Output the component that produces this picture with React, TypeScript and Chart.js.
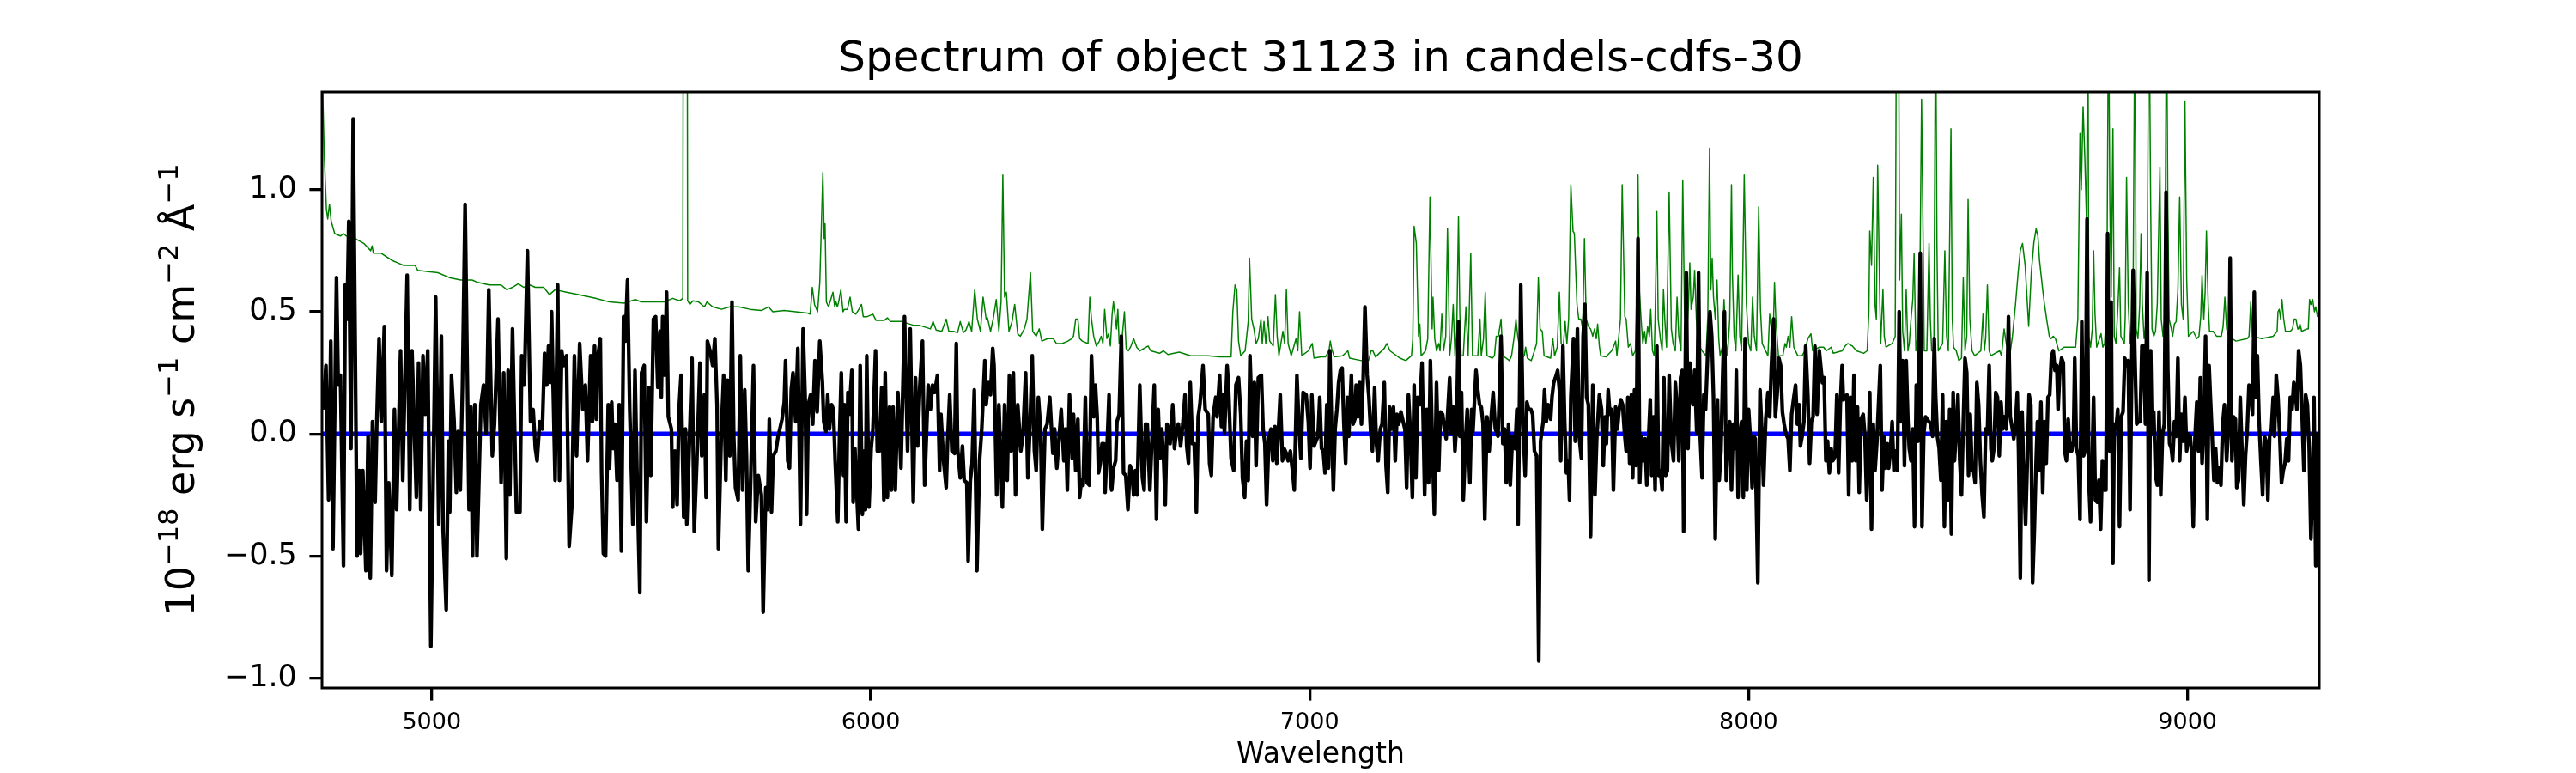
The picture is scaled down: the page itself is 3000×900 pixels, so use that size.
import { useEffect, useRef } from 'react';
import { Chart, registerables } from 'chart.js';

Chart.register(...registerables);

const TITLE = 'Spectrum of object 31123 in candels-cdfs-30';
const X_LABEL = 'Wavelength';
const Y_LABEL_PARTS: [string, boolean][] = [
  ['10', false], ['−18', true], [' erg s', false], ['−1', true],
  [' cm', false], ['−2', true], [' Å', false], ['−1', true],
];
const X_TICKS = [5000, 6000, 7000, 8000, 9000];
const Y_TICKS = [-1.0, -0.5, 0.0, 0.5, 1.0];
const X_RANGE = [4750, 9300];
const Y_RANGE = [-1.04, 1.4];

const ZERO_LINE: [number, number][] = [[4750, 0], [9300, 0]];

// object flux (black)
const FLUX: [number, number][] = [
  [4752,0.10],[4759,0.28],[4765,-0.27],[4770,0.38],[4775,-0.47],[4783,0.64],[4787,0.20],[4792,0.24],[4799,-0.54],[4803,0.61],
  [4807,0.47],[4811,0.87],[4816,-0.06],[4821,1.29],[4830,-0.50],[4835,-0.15],[4838,-0.49],[4843,-0.15],[4850,-0.56],[4855,-0.01],
  [4860,-0.59],[4865,0.05],[4871,-0.28],[4875,0.06],[4880,0.39],[4885,0.05],[4892,0.44],[4897,-0.56],[4902,-0.20],[4909,-0.58],
  [4915,0.10],[4920,-0.31],[4929,0.34],[4934,-0.19],[4944,0.65],[4950,-0.31],[4955,0.34],[4965,-0.26],[4970,0.29],[4975,-0.31],
  [4980,0.32],[4985,0.08],[4991,0.34],[4998,-0.87],[5009,0.56],[5016,-0.37],[5022,0.40],[5026,-0.40],[5033,-0.72],[5038,-0.03],
  [5041,-0.32],[5045,0.24],[5051,0.05],[5056,-0.24],[5060,0.01],[5065,-0.23],[5070,0.20],[5076,0.94],[5085,-0.31],[5089,0.11],
  [5093,-0.50],[5098,0.12],[5103,-0.50],[5112,0.12],[5118,0.20],[5124,0.00],[5130,0.59],[5138,-0.09],[5143,0.04],[5151,0.47],
  [5158,-0.20],[5164,0.25],[5170,-0.51],[5174,0.26],[5178,-0.25],[5184,0.43],[5193,-0.32],[5201,-0.32],[5205,0.32],[5211,0.20],
  [5218,0.75],[5225,0.05],[5231,0.10],[5236,-0.06],[5240,-0.11],[5246,0.05],[5252,0.02],[5257,0.33],[5262,0.20],[5266,0.36],
  [5270,0.21],[5273,0.50],[5281,-0.19],[5287,0.61],[5291,-0.19],[5296,0.34],[5301,0.28],[5307,0.32],[5313,-0.46],[5319,-0.30],[5325,0.32],
  [5330,-0.09],[5337,0.37],[5344,0.10],[5350,0.20],[5355,-0.11],[5362,0.32],[5366,0.05],[5371,0.36],[5375,0.06],[5378,0.31],
  [5384,0.39],[5387,-0.16],[5391,-0.49],[5396,-0.50],[5402,0.12],[5405,-0.14],[5410,0.13],[5413,-0.06],[5417,0.04],[5422,-0.19],
  [5427,0.12],[5432,-0.48],[5437,0.48],[5441,0.38],[5446,0.63],[5451,0.10],[5458,-0.37],[5463,0.26],[5468,-0.20],[5474,-0.65],
  [5478,0.25],[5484,0.28],[5489,-0.36],[5495,0.19],[5499,-0.17],[5505,0.47],[5510,0.48],[5515,0.19],[5520,0.42],[5523,0.15],
  [5526,0.48],[5531,0.24],[5535,0.58],[5539,0.07],[5546,0.02],[5549,-0.30],[5554,-0.07],[5559,-0.29],[5563,0.09],[5568,0.24],
  [5574,-0.34],[5578,0.02],[5581,-0.37],[5588,0.02],[5593,0.31],[5598,-0.40],[5604,-0.11],[5611,0.29],[5615,-0.09],[5621,0.16],
  [5625,-0.26],[5628,0.38],[5634,0.34],[5640,0.28],[5645,0.39],[5650,0.12],[5653,-0.47],[5660,0.02],[5665,0.24],[5670,-0.19],
  [5674,0.22],[5679,-0.09],[5684,0.54],[5688,-0.01],[5692,-0.22],[5698,-0.27],[5703,0.32],[5708,-0.23],[5713,0.18],[5717,-0.09],
  [5721,-0.56],[5726,-0.23],[5733,0.28],[5738,-0.36],[5744,-0.17],[5751,-0.25],[5755,-0.73],[5761,-0.22],[5765,-0.31],[5769,0.06],
  [5774,-0.32],[5778,-0.09],[5784,-0.07],[5789,-0.01],[5793,0.02],[5798,0.06],[5803,0.13],[5806,0.30],[5811,-0.11],[5815,-0.14],
  [5819,0.18],[5823,0.25],[5829,0.05],[5834,0.35],[5840,-0.37],[5846,0.43],[5851,0.13],[5854,-0.33],[5858,0.12],[5863,0.16],
  [5868,0.04],[5873,0.30],[5878,0.09],[5884,0.38],[5890,0.21],
  [5893,0.05],[5898,0.01],[5902,0.16],[5906,0.02],[5911,0.12],[5915,0.10],[5919,-0.11],[5925,-0.36],[5929,-0.01],[5933,0.25],
  [5938,-0.17],[5940,0.12],[5944,-0.36],[5948,0.17],[5951,0.08],[5957,0.26],[5960,-0.28],[5964,-0.06],[5968,-0.23],[5972,-0.39],
  [5976,0.28],[5981,-0.33],[5985,-0.07],[5988,-0.31],[5991,0.32],[5996,-0.30],[6001,-0.06],[6005,0.02],[6011,0.34],[6015,-0.07],
  [6020,-0.07],[6025,0.19],[6030,-0.27],[6033,0.25],[6038,-0.26],[6043,0.11],[6047,-0.23],[6051,0.11],[6056,-0.23],[6062,0.17],
  [6069,-0.14],[6077,0.48],[6084,-0.07],[6090,0.43],[6097,-0.28],[6102,0.23],[6107,-0.05],[6112,0.20],[6118,0.38],[6123,-0.21],
  [6131,0.20],[6136,0.10],[6141,0.20],[6146,0.17],[6152,0.24],[6157,-0.15],[6160,0.08],[6166,-0.11],[6172,-0.22],[6175,-0.04],
  [6180,0.16],[6185,-0.07],[6191,-0.08],[6195,0.37],[6198,-0.06],[6204,-0.18],[6209,-0.05],[6213,-0.19],[6219,-0.20],[6222,-0.52],
  [6227,-0.19],[6231,-0.12],[6236,0.18],[6242,-0.56],[6248,-0.11],[6253,0.02],[6260,0.30],[6263,0.12],[6268,0.21],[6273,0.16],
  [6278,0.35],[6281,0.28],[6287,-0.25],[6292,0.12],[6300,-0.30],[6305,0.12],[6311,-0.19],[6316,0.24],[6320,-0.07],[6325,0.25],
  [6330,-0.25],[6335,0.12],[6342,-0.07],[6347,0.00],[6353,0.25],[6358,-0.18],[6363,0.04],[6368,0.32],[6373,-0.07],[6377,-0.15],
  [6382,0.15],[6387,0.02],[6391,-0.39],[6397,0.02],[6402,0.04],[6408,0.15],[6415,-0.08],[6419,0.02],[6424,-0.14],[6429,-0.02],
  [6434,0.10],[6440,-0.11],[6444,0.02],[6448,-0.23],[6453,0.16],[6459,-0.10],
  [6462,0.08],[6467,-0.15],[6472,0.06],[6476,-0.26],[6480,-0.19],[6484,-0.21],[6489,0.15],[6493,-0.20],[6498,-0.21],[6503,0.32],
  [6508,0.07],[6512,0.20],[6516,0.07],[6519,-0.16],[6523,-0.12],[6527,-0.04],[6531,-0.04],[6534,-0.24],[6539,-0.03],[6543,0.16],
  [6546,-0.19],[6549,-0.23],[6553,-0.14],[6558,-0.11],[6561,0.05],[6566,0.08],[6571,0.40],[6576,-0.16],[6581,-0.17],[6586,-0.31],
  [6591,-0.13],[6595,-0.15],[6599,-0.25],[6603,-0.15],[6607,-0.25],[6613,0.20],[6619,-0.18],[6623,-0.23],[6626,0.04],[6630,0.04],
  [6636,-0.23],[6641,-0.01],[6646,0.20],[6651,-0.35],[6655,0.10],[6659,-0.10],[6663,0.02],[6667,-0.09],[6671,-0.29],[6675,0.04],
  [6679,0.02],[6682,-0.04],[6688,0.12],[6692,-0.06],[6697,0.02],[6701,0.04],[6706,-0.05],[6711,0.04],[6716,0.16],[6720,-0.05],
  [6724,-0.12],[6728,0.21],[6733,-0.04],[6737,-0.04],[6742,-0.32],[6746,0.07],[6750,0.12],[6757,0.28],[6762,0.10],[6769,0.08],
  [6772,-0.12],[6776,-0.17],[6780,0.07],[6786,0.15],[6789,0.07],[6795,0.24],[6799,0.03],[6802,0.16],[6806,0.00],[6812,0.28],
  [6815,0.20],[6821,-0.10],[6827,-0.15],[6832,0.20],[6838,0.23],[6843,0.08],[6847,-0.18],[6852,-0.26],[6856,-0.03],[6860,-0.19],
  [6864,0.32],[6870,-0.01],[6874,0.21],[6878,-0.13],[6883,0.23],[6890,0.24],[6894,0.02],[6898,-0.04],[6902,-0.29],[6907,-0.02],
  [6912,0.02],[6916,-0.11],[6921,0.03],[6925,-0.12],[6929,0.02],[6933,0.16],[6938,-0.11],[6942,-0.06],[6947,-0.08],[6951,-0.11],
  [6956,-0.07],[6962,-0.17],[6965,-0.23],[6971,0.24],[6976,0.02],[6980,-0.10],[6985,0.17],[6992,0.16],[6997,0.05],[7001,-0.14],
  [7005,0.16],[7010,-0.05],
  [7019,-0.01],[7023,0.15],[7027,-0.06],[7031,-0.07],[7035,-0.16],[7039,0.12],[7043,-0.14],[7046,0.34],[7050,0.04],[7054,-0.23],
  [7058,0.02],[7062,0.10],[7066,0.21],[7070,0.26],[7074,0.27],[7078,0.04],[7082,-0.12],[7086,0.15],[7089,-0.01],[7095,0.24],
  [7099,0.04],[7103,0.06],[7106,0.20],[7110,0.07],[7114,0.21],[7118,0.04],[7122,0.23],[7126,0.52],[7131,0.24],[7135,0.15],
  [7139,0.01],[7143,-0.07],[7148,0.19],[7152,-0.04],[7156,-0.11],[7161,0.02],[7165,0.04],[7170,0.21],[7174,-0.13],[7178,-0.24],
  [7182,0.11],[7186,0.02],[7191,0.11],[7195,-0.11],[7199,0.08],[7203,0.04],[7208,0.09],[7213,0.05],[7217,0.02],[7221,-0.22],
  [7225,0.16],[7229,0.02],[7234,-0.26],[7238,0.20],[7242,-0.18],[7246,0.15],[7251,0.12],[7256,0.29],[7262,-0.25],[7267,0.10],
  [7271,-0.20],[7275,0.30],[7280,-0.07],[7284,-0.33],[7289,0.21],[7294,-0.15],[7298,0.09],[7303,0.08],[7307,0.02],[7311,-0.02],
  [7315,0.10],[7319,0.23],[7323,0.00],[7327,0.11],[7331,-0.07],[7335,0.05],[7339,0.46],[7342,-0.01],[7346,0.17],[7350,-0.27],
  [7356,0.00],[7359,0.10],[7365,-0.20],[7369,0.10],[7372,0.01],[7379,0.26],[7383,0.18],[7387,0.12],[7391,0.11],[7395,0.04],
  [7399,-0.35],[7404,0.07],[7409,-0.07],[7414,0.08],[7418,0.17],[7423,0.02],[7429,-0.01],[7432,0.15],[7436,0.40],[7440,-0.04],
  [7444,0.02],[7448,-0.20],[7453,0.04],[7457,-0.21],[7462,-0.01],[7468,-0.06],[7472,0.10],[7475,-0.37],[7481,0.61],[7486,0.04],
  [7491,-0.17],[7495,0.13],[7499,0.10],[7504,0.10],[7508,0.08],[7512,-0.07],[7517,-0.09],[7522,-0.93],[7526,-0.03],[7532,0.05],
  [7535,0.18],[7539,0.05],[7543,0.12],[7549,0.06],[7552,0.15],[7556,0.21],[7560,0.23],[7565,0.26],[7569,0.18],[7572,-0.11],
  [7577,0.36],[7581,0.05],[7585,-0.16],[7589,-0.11],[7592,-0.27],[7595,0.15],
  [7601,0.39],[7605,-0.03],[7610,0.43],[7614,-0.01],[7619,-0.10],[7623,0.40],[7627,0.53],[7631,0.15],[7635,0.12],[7640,-0.42],
  [7645,0.20],[7650,-0.25],[7654,-0.02],[7660,0.16],[7665,0.10],[7669,-0.13],[7673,0.07],[7676,-0.04],[7680,0.18],[7684,0.08],
  [7688,0.10],[7692,-0.23],[7697,0.11],[7701,0.02],[7705,0.10],[7709,0.14],[7713,0.12],[7717,0.01],[7721,-0.07],[7725,0.15],
  [7729,-0.12],[7733,0.16],[7736,-0.18],[7740,0.18],[7744,-0.13],[7748,0.80],[7752,-0.20],[7756,-0.01],[7760,-0.11],[7764,-0.02],
  [7768,-0.21],[7772,-0.02],[7776,0.14],[7779,-0.17],[7783,0.07],[7787,-0.23],[7791,0.36],[7795,-0.17],[7799,-0.15],[7803,-0.23],
  [7807,0.23],[7811,-0.17],[7815,-0.15],[7819,0.24],[7824,-0.03],[7829,-0.11],[7833,0.21],[7837,0.11],[7841,-0.11],[7845,0.23],
  [7849,0.26],[7852,-0.40],[7858,0.66],[7862,-0.06],[7866,0.29],[7869,0.21],[7873,0.12],[7877,0.26],[7882,0.00],[7886,0.66],
  [7890,-0.02],[7894,-0.18],[7898,0.16],[7902,0.10],[7907,0.34],[7912,0.50],[7916,0.40],[7920,0.15],[7924,-0.43],[7929,0.14],
  [7933,-0.19],[7937,-0.07],[7941,0.24],[7945,0.50],[7949,-0.19],[7953,0.00],[7957,0.05],[7961,-0.23],[7965,0.04],[7969,-0.06],
  [7972,0.26],[7976,-0.26],[7980,0.00],[7984,0.05],[7988,-0.26],[7992,0.39],[7996,-0.23],[8000,0.10],[8004,-0.02],[8008,-0.22],
  [8012,-0.01],[8015,-0.02],[8021,-0.61],[8026,0.18],[8030,0.02],[8034,-0.21],[8039,0.06],[8044,0.17],[8048,0.07],[8052,0.28],
  [8057,0.47],[8061,0.07],[8065,0.16],[8069,0.31],[8073,0.28],[8077,0.09],[8081,0.04],[8085,0.00],[8090,-0.02],[8094,-0.15],
  [8098,0.08],[8103,0.15],[8107,0.20],[8111,0.04],[8115,0.12],[8118,-0.05],[8122,-0.01],[8126,0.05],[8130,0.36],[8135,0.16],
  [8139,-0.12],[8143,0.05],[8147,0.07],[8151,0.36],[8156,0.08],[8161,0.34],
  [8168,0.21],[8172,0.23],[8176,-0.11],[8180,-0.03],[8184,-0.16],[8188,-0.06],[8192,-0.11],[8197,-0.09],[8201,0.16],[8205,-0.16],
  [8209,0.12],[8213,0.28],[8216,0.14],[8220,0.15],[8224,0.16],[8228,-0.25],[8232,0.15],[8236,-0.11],[8240,0.24],[8244,-0.11],
  [8248,0.11],[8252,-0.24],[8256,0.06],[8261,0.08],[8265,-0.01],[8269,-0.27],[8273,-0.06],[8276,0.17],[8280,-0.39],[8284,0.04],
  [8288,-0.15],[8292,-0.04],[8296,0.12],[8300,0.28],[8304,-0.23],[8308,-0.01],[8312,-0.14],[8316,-0.04],[8319,-0.14],[8323,-0.07],
  [8327,0.05],[8331,-0.15],[8335,-0.07],[8339,-0.15],[8343,0.50],[8347,0.05],[8351,0.30],[8355,-0.13],[8359,0.30],[8363,0.05],
  [8366,-0.06],[8370,-0.11],[8374,0.02],[8378,-0.38],[8382,0.20],[8386,-0.03],[8391,0.74],[8395,-0.38],[8399,0.00],[8403,0.07],
  [8407,0.06],[8411,0.05],[8415,0.04],[8419,-0.01],[8423,0.39],[8426,0.16],[8430,-0.01],[8434,-0.06],[8438,-0.19],[8442,0.16],
  [8446,-0.38],[8450,0.05],[8454,-0.27],[8458,0.10],[8462,-0.41],[8466,0.17],[8469,-0.11],[8473,0.02],[8477,0.16],[8481,-0.11],
  [8485,-0.25],[8489,0.04],[8493,0.31],[8497,0.25],[8501,-0.17],[8505,0.08],[8509,-0.15],[8512,-0.14],[8516,-0.20],[8520,0.21],
  [8524,0.12],[8528,-0.11],[8532,-0.25],[8536,-0.34],[8540,0.02],[8544,0.00],[8548,0.28],[8552,-0.06],[8555,-0.11],[8559,-0.06],
  [8563,0.17],[8567,0.15],[8571,-0.09],[8575,0.13],[8579,0.02],[8583,0.07],[8587,0.02],[8592,0.48],[8596,0.07],[8600,0.03],
  [8604,-0.02],[8608,0.04],[8612,0.17],[8615,-0.07],[8619,-0.59],[8623,0.09],[8627,-0.17],[8631,-0.37],[8635,-0.11],[8639,0.16],
  [8643,0.12],[8647,-0.61],[8651,-0.39],[8655,-0.11],[8658,0.05],[8662,-0.15],[8666,0.13],[8670,-0.24],[8674,0.05],[8678,-0.12],
  [8682,0.15],[8686,0.16],[8690,0.32],[8694,0.34],[8698,0.26],[8702,0.28],[8705,0.10],[8709,0.26],[8713,0.31],[8717,0.29],
  [8720,-0.07],[8724,-0.11],[8728,0.06],
  [8732,-0.07],[8736,-0.07],[8740,-0.03],[8743,0.31],[8747,-0.06],[8751,-0.09],[8755,-0.35],[8759,0.46],[8763,-0.09],[8767,-0.07],
  [8771,0.88],[8775,-0.19],[8779,-0.36],[8783,-0.09],[8786,0.15],[8790,-0.27],[8794,-0.28],[8798,-0.19],[8802,-0.39],[8806,-0.11],
  [8810,-0.23],[8814,-0.23],[8818,0.82],[8822,-0.07],[8826,0.54],[8830,-0.53],[8833,0.04],[8837,0.02],[8841,0.10],[8845,-0.38],
  [8849,0.07],[8853,0.09],[8857,0.31],[8861,0.28],[8865,0.30],[8869,-0.31],[8873,0.29],[8876,0.67],[8880,0.32],[8884,0.04],
  [8888,0.05],[8892,0.05],[8896,0.36],[8900,0.36],[8904,0.04],[8908,0.66],[8912,-0.60],[8916,0.34],[8919,0.00],[8923,0.09],
  [8927,-0.17],[8931,-0.21],[8935,0.09],[8939,-0.25],[8943,0.00],[8947,0.04],[8951,0.99],[8955,0.27],[8959,-0.04],[8963,-0.06],
  [8966,-0.11],[8970,0.05],[8974,-0.01],[8978,0.31],[8982,-0.11],[8986,0.08],[8990,-0.03],[8994,0.15],[8998,-0.07],[9002,0.00],
  [9006,-0.01],[9009,-0.07],[9013,-0.38],[9017,-0.01],[9021,0.13],[9025,-0.07],[9029,0.23],[9033,-0.12],[9037,0.04],[9041,0.40],
  [9045,-0.35],[9049,0.28],[9052,0.15],[9056,-0.01],[9060,-0.19],[9064,-0.06],[9068,-0.20],[9072,-0.14],[9076,-0.21],[9080,0.04],
  [9084,0.12],[9089,-0.11],[9093,0.02],[9097,0.72],[9101,-0.11],[9105,0.07],[9109,0.06],[9112,-0.22],[9116,-0.19],[9120,0.15],
  [9124,-0.07],[9128,-0.29],[9132,-0.09],[9136,0.02],[9140,0.20],[9144,0.18],[9148,0.08],[9152,0.58],[9155,0.15],[9159,0.32],
  [9163,0.05],[9167,-0.11],[9171,-0.25],[9175,-0.01],[9179,-0.03],[9183,-0.27],[9187,-0.01],[9191,0.02],[9195,0.15],[9198,-0.01],
  [9202,0.24],[9206,0.15],[9210,-0.01],[9214,-0.20],[9218,-0.15],[9222,-0.12],[9226,-0.02],[9230,-0.11],[9234,0.15],[9238,0.10],
  [9242,0.21],[9245,0.18],[9249,0.10],[9253,0.34],[9257,0.28],[9261,0.07],[9265,-0.15],[9269,0.16],[9273,0.12],[9277,-0.06],
  [9281,-0.43],[9285,-0.20],[9288,0.15],[9292,-0.54],[9296,0.00],[9300,-0.55],
];

// noise / sky spectrum (green)
const NOISE: [number, number][] = [
  [4751,1.45],[4755,1.15],[4760,0.92],[4763,0.88],[4767,0.94],[4771,0.87],[4779,0.82],[4792,0.81],[4799,0.82],[4805,0.81],
  [4825,0.80],[4845,0.78],[4861,0.75],[4864,0.77],[4867,0.74],[4884,0.74],[4910,0.71],[4923,0.70],[4936,0.69],[4962,0.69],
  [4968,0.67],[4988,0.665],[5014,0.66],[5040,0.64],[5066,0.63],[5092,0.63],[5105,0.62],[5131,0.61],[5158,0.61],[5171,0.59],
  [5184,0.60],[5197,0.615],[5210,0.60],[5223,0.61],[5236,0.60],[5255,0.60],[5268,0.57],[5281,0.59],[5307,0.58],
  [5334,0.57],[5373,0.555],[5405,0.54],[5438,0.535],[5464,0.55],[5477,0.54],[5503,0.54],[5529,0.54],[5549,0.555],[5565,0.545],
  [5572,0.555],[5577.5,8],[5583,0.545],[5588,0.53],[5595,0.545],[5608,0.54],[5621,0.52],[5627,0.54],[5640,0.52],[5660,0.51],
  [5679,0.52],[5699,0.52],[5725,0.51],[5751,0.505],[5767,0.52],[5777,0.50],[5803,0.505],[5829,0.50],[5855,0.495],[5862,0.49],
  [5867,0.60],[5872,0.53],[5879,0.50],[5884,0.62],[5891,1.07],[5894,0.80],[5896,0.86],[5899,0.54],[5904,0.52],[5914,0.58],
  [5918,0.52],[5921,0.54],[5924,0.52],[5927,0.54],[5932,0.59],[5937,0.50],[5940,0.51],[5947,0.51],[5953,0.56],[5958,0.50],
  [5966,0.49],[5973,0.51],[5979,0.53],[5983,0.48],[5992,0.48],[6005,0.49],[6012,0.465],[6031,0.465],[6038,0.475],[6045,0.46],
  [6071,0.46],[6097,0.445],[6110,0.445],[6136,0.43],[6142,0.46],[6149,0.425],[6162,0.42],[6172,0.47],[6178,0.42],[6188,0.42],
  [6198,0.415],[6204,0.46],[6211,0.415],[6217,0.425],[6224,0.46],[6230,0.42],[6237,0.59],[6243,0.47],[6250,0.42],[6256,0.56],
  [6263,0.47],[6266,0.475],[6273,0.42],[6279,0.47],[6286,0.55],[6292,0.42],[6297,0.54],[6301,1.06],[6305,0.56],[6309,0.58],
  [6315,0.42],[6322,0.46],[6328,0.53],[6335,0.41],[6341,0.40],[6350,0.43],[6356,0.47],[6364,0.66],[6369,0.42],[6377,0.40],
  [6384,0.43],[6390,0.38],[6403,0.39],[6416,0.39],[6423,0.37],[6436,0.37],[6449,0.38],[6458,0.39],
  [6462,0.40],[6467,0.47],[6472,0.47],[6476,0.39],[6482,0.38],[6495,0.37],[6499,0.56],[6503,0.47],[6508,0.40],[6514,0.36],
  [6521,0.38],[6525,0.40],[6529,0.37],[6533,0.51],[6538,0.39],[6542,0.41],[6546,0.36],[6550,0.49],[6553,0.54],[6557,0.48],
  [6560,0.43],[6563,0.51],[6566,0.37],[6573,0.40],[6578,0.50],[6582,0.35],[6587,0.34],[6593,0.36],[6599,0.39],[6606,0.355],
  [6613,0.34],[6632,0.36],[6638,0.34],[6658,0.33],[6667,0.34],[6677,0.325],[6703,0.335],[6729,0.32],[6769,0.32],[6795,0.315],
  [6821,0.315],[6825,0.50],[6830,0.61],[6834,0.59],[6838,0.38],[6843,0.32],[6853,0.34],[6860,0.46],[6863,0.72],[6868,0.47],
  [6873,0.43],[6878,0.37],[6883,0.39],[6889,0.47],[6892,0.37],[6896,0.46],[6900,0.37],[6905,0.48],[6909,0.38],[6917,0.36],
  [6922,0.57],[6926,0.40],[6930,0.32],[6939,0.42],[6943,0.37],[6947,0.59],[6951,0.37],[6958,0.32],[6969,0.39],[6973,0.34],
  [6977,0.50],[6982,0.32],[6997,0.34],[7006,0.37],[7010,0.31],[7026,0.315],
  [7036,0.315],[7044,0.34],[7047,0.38],[7050,0.35],[7056,0.315],[7075,0.32],[7087,0.34],[7091,0.31],[7118,0.30],[7134,0.30],
  [7140,0.34],[7144,0.34],[7150,0.315],[7170,0.35],[7176,0.37],[7183,0.34],[7206,0.31],[7219,0.30],[7232,0.32],[7235,0.39],
  [7238,0.85],[7243,0.78],[7248,0.40],[7251,0.45],[7254,0.32],[7264,0.34],[7269,0.39],[7274,0.97],[7279,0.43],[7281,0.56],
  [7285,0.39],[7289,0.34],[7294,0.37],[7297,0.34],[7301,0.49],[7305,0.34],[7310,0.40],[7314,0.84],[7319,0.32],[7323,0.39],
  [7327,0.53],[7331,0.32],[7335,0.42],[7339,0.89],[7342,0.50],[7345,0.32],[7350,0.32],[7356,0.52],[7361,0.32],[7367,0.74],
  [7371,0.32],[7383,0.32],[7388,0.47],[7391,0.32],[7396,0.39],[7400,0.58],[7404,0.32],[7416,0.31],[7421,0.32],[7425,0.40],
  [7430,0.40],[7436,0.47],[7440,0.32],[7455,0.30],[7460,0.32],[7466,0.40],[7470,0.47],[7474,0.40],[7483,0.31],[7489,0.32],
  [7492,0.355],[7496,0.31],[7505,0.30],[7512,0.34],[7517,0.37],[7521,0.64],[7525,0.43],[7530,0.42],[7534,0.32],[7549,0.31],
  [7554,0.39],[7558,0.32],[7564,0.355],[7569,0.58],[7573,0.37],[7578,0.36],[7582,0.46],[7586,0.37],[7590,0.47],[7595,1.02],
  [7600,0.83],[7603,0.82],[7609,0.53],[7613,0.47],[7618,0.47],[7622,0.43],[7626,0.80],[7630,0.47],[7635,0.44],[7640,0.43],
  [7645,0.40],[7649,0.43],[7653,0.39],[7656,0.45],[7660,0.36],[7663,0.32],[7675,0.315],[7688,0.34],[7693,0.36],[7697,0.38],
  [7700,0.32],[7708,0.47],[7712,1.02],[7718,0.48],[7721,0.47],[7726,0.355],[7731,0.37],[7736,0.32],[7742,0.34],[7744,0.47],
  [7748,1.06],[7751,0.59],[7755,0.47],[7759,0.37],[7763,0.42],[7766,0.37],[7770,0.44],[7774,0.40],[7777,0.51],[7781,0.34],
  [7785,0.32],[7787,0.48],[7791,0.91],[7794,0.47],[7799,0.39],[7803,0.34],[7806,0.59],[7809,0.47],[7813,0.355],[7819,0.99],
  [7824,0.43],[7828,0.37],[7833,0.34],[7837,0.56],[7841,0.40],[7846,0.34],[7850,1.04],[7854,0.50],[7859,0.40],[7863,0.53],
  [7866,0.70],[7869,0.51],[7874,0.56],[7877,0.67],[7881,0.47],[7885,0.37],[7894,0.34],[7903,0.32],[7907,0.48],[7911,1.17],
  [7914,0.59],[7917,0.72],[7920,0.56],[7924,0.47],[7928,0.63],[7932,0.39],[7935,0.32],[7940,0.355],[7944,0.55],[7948,0.39],
  [7952,0.32],[7957,0.47],[7961,1.02],[7963,0.66],[7967,0.40],[7971,0.34],[7976,0.65],[7980,0.40],[7984,0.34],[7990,1.06],
  [7995,0.53],[8000,0.37],[8005,0.34],[8009,0.56],[8013,0.40],[8018,0.34],[8023,0.93],[8027,0.51],[8031,0.37],[8044,0.32],
  [8048,0.49],[8052,0.43],[8055,0.34],[8059,0.62],[8062,0.47],[8068,0.32],[8078,0.32],[8083,0.37],[8086,0.355],[8090,0.40],
  [8094,0.355],[8098,0.48],[8103,0.355],[8112,0.32],[8122,0.32],[8128,0.34],[8135,0.39],[8142,0.41],[8146,0.34],[8161,0.355],
  [8171,0.355],[8177,0.34],[8188,0.355],[8193,0.33],[8213,0.34],[8220,0.36],[8226,0.37],[8236,0.36],[8246,0.34],[8262,0.33],
  [8270,0.34],[8274,0.50],[8276,0.83],[8280,0.69],[8284,1.05],[8288,0.53],[8291,0.47],[8294,1.10],[8299,0.53],[8301,0.37],
  [8306,0.59],[8309,0.40],[8313,0.355],[8327,0.37],[8334,0.40],[8339,3.0],[8344,0.63],[8348,0.90],[8351,0.42],[8355,0.34],
  [8359,0.59],[8363,0.34],[8366,0.37],[8370,0.47],[8374,0.55],[8377,0.74],[8381,0.34],[8385,0.40],[8389,0.40],[8394,1.37],
  [8398,0.72],[8400,0.34],[8406,0.34],[8411,0.78],[8414,0.47],[8417,0.34],[8422,0.34],[8426,1.8],[8429,0.78],[8432,0.34],
  [8442,0.37],[8447,0.75],[8451,0.40],[8455,0.34],[8461,1.25],[8464,0.47],[8467,0.355],[8473,0.34],[8479,0.30],[8485,0.31],
  [8489,0.64],[8493,0.34],[8497,0.40],[8500,0.96],[8504,0.47],[8509,0.34],[8515,0.32],[8529,0.34],[8534,0.49],[8537,0.34],
  [8540,0.39],[8544,0.61],[8548,0.34],[8552,0.32],[8572,0.34],[8576,0.32],[8582,0.43],[8587,0.37],[8595,0.32],[8601,0.40],
  [8608,0.53],[8614,0.66],[8619,0.75],[8624,0.78],[8630,0.69],[8638,0.44],[8644,0.66],[8650,0.785],[8655,0.84],[8659,0.81],
  [8663,0.705],[8670,0.59],[8674,0.53],[8679,0.47],[8685,0.40],[8689,0.39],[8694,0.40],[8699,0.39],[8702,0.37],[8707,0.34],
  [8719,0.355],[8728,0.355],
  [8738,0.355],[8745,0.355],[8750,0.47],[8755,1.23],[8758,1.00],[8762,1.34],[8766,1.13],[8770,0.86],[8773,1.9],[8775,0.40],
  [8779,0.355],[8783,0.43],[8786,0.75],[8789,0.50],[8793,0.355],[8803,0.41],[8807,0.355],[8811,0.37],[8816,0.53],[8820,1.8],
  [8823,0.94],[8826,0.56],[8830,1.25],[8833,0.40],[8837,0.37],[8841,0.51],[8845,0.68],[8848,0.40],[8856,0.37],[8858,0.48],
  [8861,1.05],[8865,0.53],[8869,0.37],[8873,0.40],[8876,0.59],[8880,1.8],[8883,0.43],[8887,0.39],[8891,0.53],[8894,0.82],
  [8897,0.53],[8901,0.39],[8905,0.45],[8908,0.59],[8912,1.9],[8916,0.93],[8919,0.43],[8923,0.40],[8927,0.42],[8931,0.53],
  [8937,1.09],[8940,0.47],[8944,0.40],[8948,0.47],[8952,1.8],[8955,0.94],[8958,0.47],[8963,0.43],[8966,0.40],[8970,0.45],
  [8974,0.46],[8978,0.59],[8982,0.97],[8986,0.53],[8990,0.47],[8994,1.36],[8998,0.63],[9002,0.40],[9013,0.42],[9021,0.39],
  [9026,0.40],[9030,0.48],[9033,0.65],[9037,0.47],[9040,0.58],[9043,0.83],[9047,0.53],[9050,0.42],[9058,0.42],[9066,0.40],
  [9077,0.40],[9081,0.44],[9085,0.56],[9089,0.43],[9094,0.40],[9110,0.38],[9136,0.39],[9140,0.40],[9144,0.54],[9148,0.40],
  [9169,0.39],[9195,0.40],[9204,0.42],[9206,0.50],[9209,0.51],[9212,0.47],[9215,0.55],[9219,0.47],[9223,0.42],[9234,0.42],
  [9239,0.43],[9243,0.47],[9247,0.47],[9251,0.43],[9253,0.43],[9256,0.45],[9260,0.42],[9272,0.43],[9275,0.43],[9278,0.55],
  [9281,0.53],[9285,0.55],[9289,0.50],[9292,0.52],[9296,0.48],[9300,0.48],
];

const FONT = '"DejaVu Sans"';

const toXY = (pts: [number, number][]) => pts.map(([x, y]) => ({ x, y }));

const framePlugin = {
  id: 'frame',
  afterDatasetsDraw(chart: any) {
    const { ctx, chartArea: a } = chart;
    ctx.save();
    ctx.strokeStyle = '#000';
    ctx.lineWidth = 3;
    ctx.strokeRect(a.left, a.top, a.right - a.left, a.bottom - a.top);
    ctx.restore();
  },
};

const textPlugin = {
  id: 'texts',
  afterDraw(chart: any) {
    const { ctx, chartArea: a } = chart;
    const cx = (a.left + a.right) / 2;
    ctx.save();
    ctx.fillStyle = '#000';
    ctx.textAlign = 'center';
    ctx.textBaseline = 'alphabetic';
    ctx.font = `50px ${FONT}`;
    ctx.fillText(TITLE, cx, 83);
    ctx.font = `33px ${FONT}`;
    ctx.fillText(X_LABEL, cx, 888);

    // y label with superscripts
    const base = `46px ${FONT}`;
    const sup = `32px ${FONT}`;
    ctx.translate(226, (a.top + a.bottom) / 2);
    ctx.rotate(-Math.PI / 2);
    ctx.textAlign = 'left';
    let total = 0;
    for (const [t, s] of Y_LABEL_PARTS) {
      ctx.font = s ? sup : base;
      total += ctx.measureText(t).width;
    }
    let x = -total / 2;
    for (const [t, s] of Y_LABEL_PARTS) {
      ctx.font = s ? sup : base;
      ctx.fillText(t, x, s ? -19 : 0);
      x += ctx.measureText(t).width;
    }
    ctx.restore();
  },
};

export default function App() {
  const ref = useRef<HTMLCanvasElement | null>(null);

  useEffect(() => {
    if (!ref.current) return;
    const common = { pointRadius: 0, tension: 0, clip: 0, borderJoinStyle: 'round', fill: false };
    const chart = new Chart(ref.current, {
      type: 'line',
      data: {
        datasets: [
          { label: 'flux', data: toXY(FLUX), borderColor: '#000000', borderWidth: 4.3, ...common },
          { label: 'zero', data: toXY(ZERO_LINE), borderColor: '#0000ff', borderWidth: 5.5, ...common },
          { label: 'noise', data: toXY(NOISE), borderColor: '#008000', borderWidth: 1.5, ...common },
        ] as any,
      },
      options: {
        responsive: false,
        animation: false,
        devicePixelRatio: 1,
        events: [],
        layout: { padding: { left: 0, right: 299, top: 107, bottom: 0 } },
        plugins: {
          legend: { display: false },
          tooltip: { enabled: false },
          title: { display: false },
        },
        scales: {
          x: {
            type: 'linear',
            min: X_RANGE[0],
            max: X_RANGE[1],
            afterBuildTicks: (s: any) => { s.ticks = X_TICKS.map((v) => ({ value: v })); },
            afterFit: (s: any) => { s.height = 99; },
            border: { display: false },
            grid: { drawOnChartArea: false, drawTicks: true, tickLength: 14.6, color: '#000', lineWidth: 3.3 },
            ticks: {
              font: { family: 'DejaVu Sans', size: 27 },
              color: '#000',
              padding: 10,
              maxRotation: 0,
              autoSkip: false,
              callback: (v: any) => String(v),
            },
          },
          y: {
            type: 'linear',
            min: Y_RANGE[0],
            max: Y_RANGE[1],
            afterBuildTicks: (s: any) => { s.ticks = Y_TICKS.map((v) => ({ value: v })); },
            afterFit: (s: any) => { s.width = 375; },
            border: { display: false },
            grid: { drawOnChartArea: false, drawTicks: true, tickLength: 14.6, color: '#000', lineWidth: 3.3 },
            ticks: {
              font: { family: 'DejaVu Sans', size: 35 },
              color: '#000',
              padding: 14.6,
              autoSkip: false,
              callback: (v: any) => Number(v).toFixed(1).replace('-', '\u2212'),
            },
          },
        },
      } as any,
      plugins: [framePlugin, textPlugin],
    });
    return () => chart.destroy();
  }, []);

  return (
    <div style={{ position: 'absolute', left: 0, top: 0, width: 3000, height: 900, background: '#fff' }}>
      <canvas ref={ref} width={3000} height={900} style={{ display: 'block', width: 3000, height: 900 }} />
    </div>
  );
}
